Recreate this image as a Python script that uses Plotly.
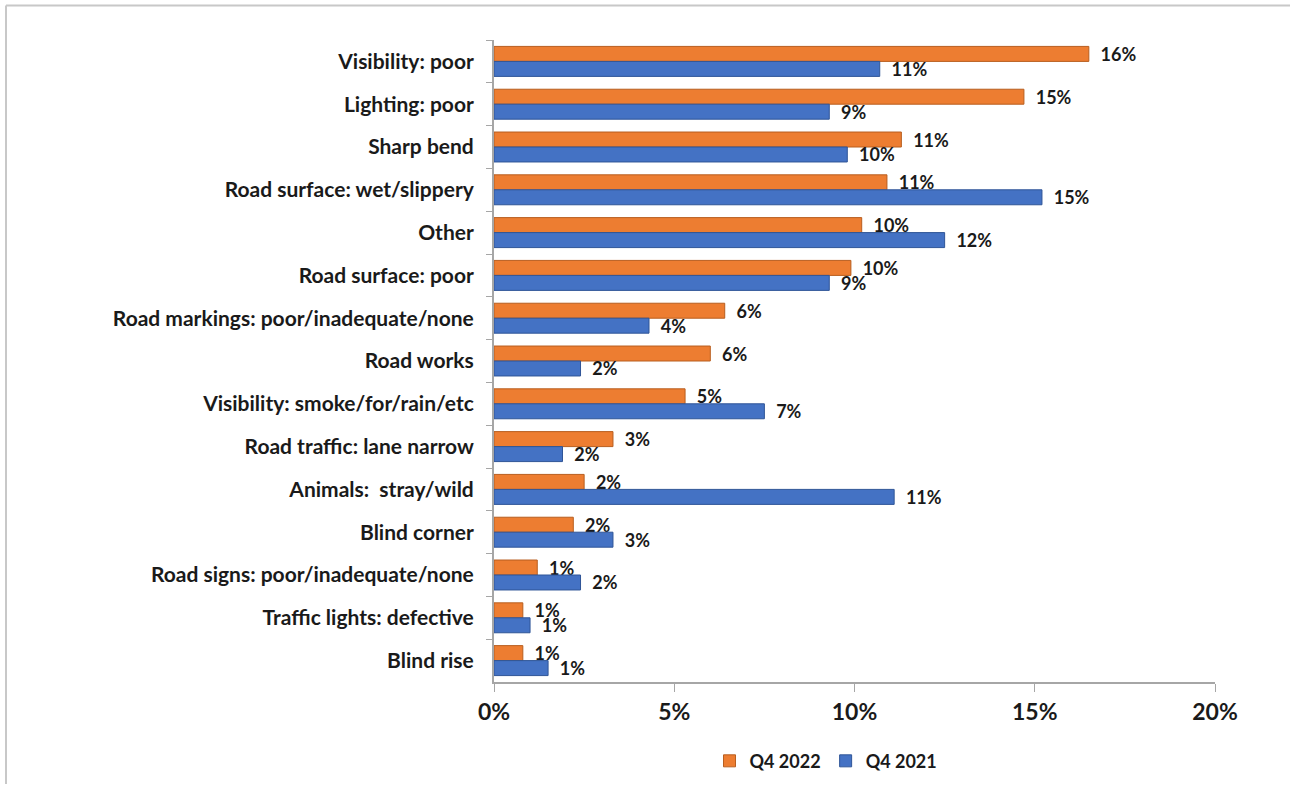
import plotly.graph_objects as go

categories = ["Visibility: poor", "Lighting: poor", "Sharp bend", "Road surface: wet/slippery",
              "Other", "Road surface: poor", "Road markings: poor/inadequate/none", "Road works",
              "Visibility: smoke/for/rain/etc", "Road traffic: lane narrow", "Animals:  stray/wild",
              "Blind corner", "Road signs: poor/inadequate/none", "Traffic lights: defective", "Blind rise"]

q4_2022 = [0.165, 0.147, 0.113, 0.109, 0.102, 0.099, 0.064, 0.060, 0.053, 0.033, 0.025,
           0.022, 0.012, 0.008, 0.008]
q4_2021 = [0.107, 0.093, 0.098, 0.152, 0.125, 0.093, 0.043, 0.024, 0.075, 0.019, 0.111,
           0.033, 0.024, 0.010, 0.015]

labels_2022 = ["16%", "15%", "11%", "11%", "10%", "10%", "6%", "6%", "5%", "3%", "2%", "2%", "1%", "1%", "1%"]
labels_2021 = ["11%", "9%", "10%", "15%", "12%", "9%", "4%", "2%", "7%", "2%", "11%", "3%", "2%", "1%", "1%"]

tick_vals = [0, 0.05, 0.10, 0.15, 0.20]
tick_text = ["0%", "5%", "10%", "15%", "20%"]

FONT = "Lato"
TXT = "#1a1a1a"

W, H = 1290, 792
ML, MR, MT, MB = 494, 75, 40, 103
PW, PH = W - ML - MR, H - MT - MB

fig = go.Figure()
fig.add_trace(go.Bar(y=categories, x=q4_2022, name="Q4 2022", orientation="h",
                     marker=dict(color="#ED7D31", line=dict(color="#B85E1F", width=1)),
                     text=["  " + t for t in labels_2022], textposition="outside", constraintext="none",
                     textfont=dict(family=FONT, size=18, color=TXT, weight="bold"), cliponaxis=False))
fig.add_trace(go.Bar(y=categories, x=q4_2021, name="Q4 2021", orientation="h",
                     marker=dict(color="#4472C4", line=dict(color="#2F5597", width=1)),
                     text=["  " + t for t in labels_2021], textposition="outside", constraintext="none",
                     textfont=dict(family=FONT, size=18, color=TXT, weight="bold"), cliponaxis=False))

fig.update_layout(
    width=W, height=H,
    margin=dict(l=ML, r=MR, t=MT, b=MB),
    paper_bgcolor="white", plot_bgcolor="white",
    barmode="group", bargap=0.3, bargroupgap=0,
    font=dict(family=FONT, color=TXT),
    legend=dict(orientation="h", x=(826 - ML) / PW, xanchor="center", y=-80 / PH, yanchor="middle",
                font=dict(family=FONT, size=18, color=TXT, weight="bold"), traceorder="normal"),
    shapes=[
        dict(type="line", xref="paper", yref="paper", x0=-(ML - 6) / PW, x1=-(ML - 6) / PW,
             y0=-MB / PH, y1=(PH + MT - 5) / PH, line=dict(color="#c8c8c8", width=2)),
        dict(type="line", xref="paper", yref="paper", x0=-(ML - 6) / PW, x1=(PW + MR) / PW,
             y0=(PH + MT - 5) / PH, y1=(PH + MT - 5) / PH, line=dict(color="#c8c8c8", width=2)),
    ],
)

fig.update_xaxes(range=[0, 0.2], tickvals=tick_vals, ticktext=tick_text, automargin=False,
                 showgrid=False, zeroline=False, showline=True, linecolor="#a6a6a6", linewidth=2,
                 ticks="outside", tickcolor="#a6a6a6", ticklen=8, tickwidth=1,
                 tickfont=dict(family=FONT, size=23, color=TXT, weight="bold"))
fig.update_yaxes(autorange="reversed", automargin=False, showgrid=False, showline=True,
                 linecolor="#a6a6a6", linewidth=2,
                 ticks="outside", tickson="boundaries", tickcolor="#a6a6a6", ticklen=6,
                 tickfont=dict(family=FONT, size=21, color=TXT, weight="bold"), ticklabelstandoff=14)

# drop the default 8px body margin so the figure fills the window exactly
fig.write_html("out.html", config={"displayModeBar": False},
               post_script="document.body.style.margin='0';")
